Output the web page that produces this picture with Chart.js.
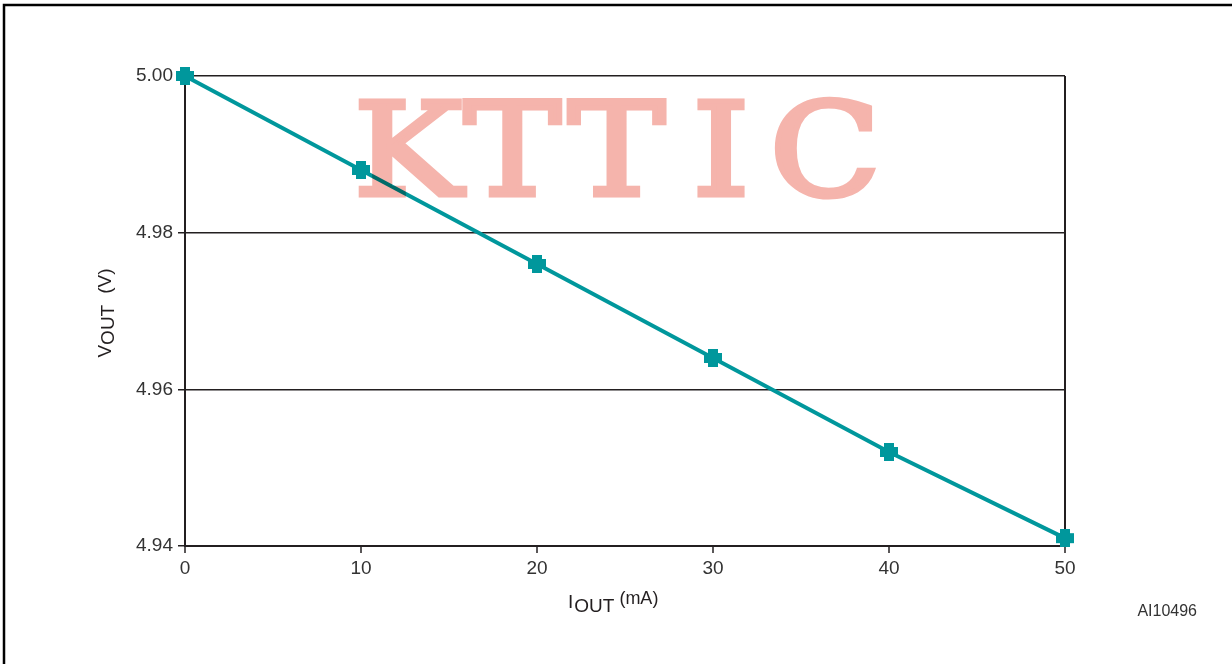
<!DOCTYPE html>
<html>
<head>
<meta charset="utf-8">
<script src="https://cdn.jsdelivr.net/npm/chart.js@4/dist/chart.umd.min.js"></script>
<style>
  html, body { margin: 0; padding: 0; background: #fff; }
  #wrap { width: 1232px; height: 664px; position: relative; }
</style>
</head>
<body>
<div id="wrap"><canvas id="c" width="1232" height="664"></canvas></div>
<script>
// ---- data ----
const currents = [0, 10, 20, 30, 40, 50];                    // I_OUT (mA)
const voltages = [5.000, 4.988, 4.976, 4.964, 4.952, 4.941]; // V_OUT (V)
const xTicks = [0, 10, 20, 30, 40, 50];
const yTicks = [4.94, 4.96, 4.98, 5.00];
const watermark = 'KTTIC';
const figureId = 'AI10496';

const TEAL = '#00979c';
const AXIS = '#231f20';
const SANS = '"Liberation Sans", Arial, sans-serif';

// thick plus marker
function makeMarker() {
  const s = 18, c = document.createElement('canvas');
  c.width = s; c.height = s;
  const g = c.getContext('2d');
  g.fillStyle = TEAL;
  const k = 4;
  g.beginPath();
  g.moveTo(k, 0); g.lineTo(s - k, 0); g.lineTo(s - k, k); g.lineTo(s, k);
  g.lineTo(s, s - k); g.lineTo(s - k, s - k); g.lineTo(s - k, s); g.lineTo(k, s);
  g.lineTo(k, s - k); g.lineTo(0, s - k); g.lineTo(0, k); g.lineTo(k, k);
  g.closePath(); g.fill();
  return c;
}
const marker = makeMarker();

// watermark drawn once into its own canvas so overlapping strokes do not double up
function makeWatermark() {
  const c = document.createElement('canvas');
  c.width = 1232; c.height = 664;
  const g = c.getContext('2d');
  g.fillStyle = '#f5b4ac';
  g.strokeStyle = '#f5b4ac';
  g.lineWidth = 5;
  g.lineJoin = 'miter';
  g.font = '130px "DejaVu Serif", serif';
  g.textAlign = 'center';
  g.textBaseline = 'alphabetic';
  const startX = 408, step = 104.3;
  for (let i = 0; i < watermark.length; i++) {
    g.save();
    g.translate(startX + i * step, 195);
    g.scale(1.12, 1);
    g.fillText(watermark[i], 0, 0);
    g.strokeText(watermark[i], 0, 0);
    g.restore();
  }
  return c;
}
const wmCanvas = makeWatermark();

const decor = {
  id: 'decor',
  beforeDraw(chart) {
    const g = chart.ctx;
    g.save();
    g.fillStyle = '#fff';
    g.fillRect(0, 0, chart.width, chart.height);
    g.strokeStyle = '#000';
    g.lineWidth = 2.5;
    g.beginPath();
    g.moveTo(1232, 5); g.lineTo(4, 5); g.lineTo(4, 664);
    g.stroke();
    g.restore();
  },
  afterDraw(chart) {
    const g = chart.ctx;
    g.save();
    g.globalCompositeOperation = 'multiply';
    g.drawImage(wmCanvas, 0, 0);
    g.globalCompositeOperation = 'source-over';

    g.fillStyle = '#231f20';
    // x axis title: I_OUT (mA)
    g.textAlign = 'left';
    g.font = '19px ' + SANS;
    let x = 568;
    g.fillText('I', x, 608);
    x += g.measureText('I').width + 1;
    g.fillText('OUT', x, 612);
    x += g.measureText('OUT').width + 5;
    g.font = '18px ' + SANS;
    g.fillText('(mA)', x, 604);

    // y axis title: V_OUT (V)
    g.save();
    g.translate(111, 313);
    g.rotate(-Math.PI / 2);
    g.font = '19px ' + SANS;
    const wV = g.measureText('V').width;
    const wO = g.measureText('OUT').width;
    const wP = g.measureText('(V)').width;
    const gap = 11;
    let sx = -(wV + wO + gap + wP) / 2;
    g.fillText('V', sx, 0);
    sx += wV;
    g.fillText('OUT', sx, 3);
    sx += wO + gap;
    g.fillText('(V)', sx, 0);
    g.restore();

    // figure id
    g.font = '16px ' + SANS;
    g.fillStyle = '#333';
    g.textAlign = 'right';
    g.fillText(figureId, 1197, 616);
    g.restore();
  }
};

new Chart(document.getElementById('c'), {
  type: 'line',
  data: {
    datasets: [{
      data: currents.map((c, i) => ({ x: c, y: voltages[i] })),
      borderColor: TEAL,
      backgroundColor: TEAL,
      borderWidth: 4,
      pointStyle: marker,
      pointRadius: 9,
      pointHoverRadius: 9,
      tension: 0,
      clip: false
    }]
  },
  options: {
    responsive: false,
    animation: false,
    events: [],
    layout: { padding: { left: 0, right: 167, top: 76, bottom: 0 } },
    plugins: { legend: { display: false }, tooltip: { enabled: false } },
    scales: {
      x: {
        type: 'linear',
        min: 0, max: 50,
        afterFit(s) { s.height = 118; },
        afterBuildTicks(s) { s.ticks = xTicks.map(v => ({ value: v })); },
        border: { display: true, color: AXIS, width: 2 },
        grid: {
          drawOnChartArea: true,
          color: ctx => (ctx.tick && ctx.tick.value === 50) ? AXIS : 'rgba(0,0,0,0)',
          lineWidth: 2,
          tickColor: AXIS,
          tickLength: 7,
          tickWidth: 1.5
        },
        ticks: {
          color: '#333',
          padding: 4,
          font: { family: SANS, size: 19 },
          callback: v => String(v)
        }
      },
      y: {
        type: 'linear',
        min: 4.94, max: 5.00,
        afterFit(s) { s.width = 185; },
        afterBuildTicks(s) { s.ticks = yTicks.map(v => ({ value: v })); },
        border: { display: true, color: AXIS, width: 2 },
        grid: {
          color: AXIS,
          lineWidth: 1.5,
          tickColor: AXIS,
          tickLength: 7,
          tickWidth: 1.5
        },
        ticks: {
          color: '#333',
          padding: 5,
          font: { family: SANS, size: 19 },
          callback: v => Number(v).toFixed(2)
        }
      }
    }
  },
  plugins: [decor]
});
</script>
</body>
</html>
